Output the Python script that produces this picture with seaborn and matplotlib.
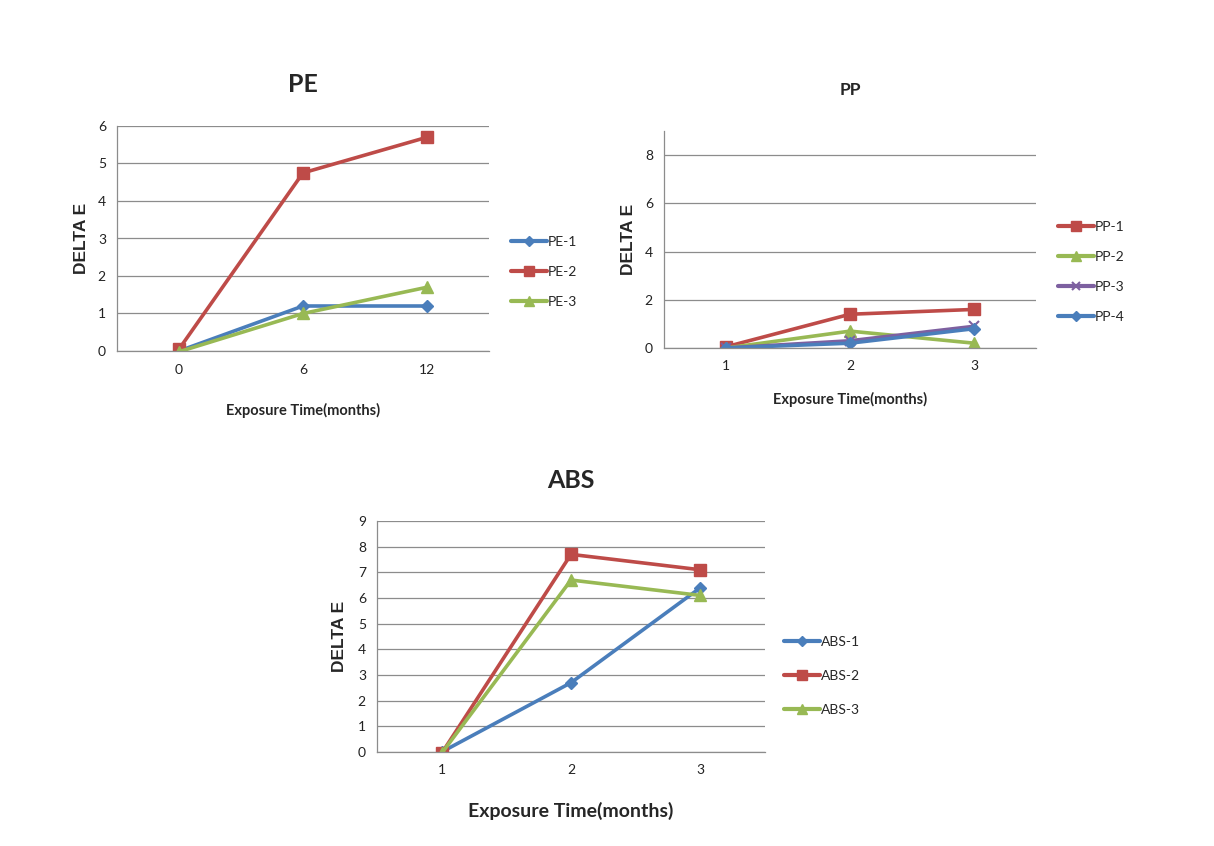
import matplotlib
matplotlib.use("Agg")
import matplotlib.pyplot as plt
import seaborn as sns
import pandas as pd
from matplotlib.lines import Line2D

# ---------------- data ----------------
pe_times = ["0", "6", "12"]
pe_series = ["PE-1", "PE-2", "PE-3"]
pe_1 = [0.0, 1.2, 1.2]
pe_2 = [0.05, 4.75, 5.7]
pe_3 = [-0.02, 1.0, 1.7]

pp_times = ["1", "2", "3"]
pp_series = ["PP-1", "PP-2", "PP-3", "PP-4"]
pp_1 = [0.05, 1.4, 1.6]
pp_2 = [0.0, 0.7, 0.2]
pp_3 = [0.0, 0.3, 0.9]
pp_4 = [0.0, 0.2, 0.8]

abs_times = ["1", "2", "3"]
abs_series = ["ABS-1", "ABS-2", "ABS-3"]
abs_1 = [0.0, 2.7, 6.4]
abs_2 = [-0.05, 7.7, 7.1]
abs_3 = [-0.05, 6.7, 6.1]

# ---------------- style ----------------
BLUE = "#4A7EBB"
RED = "#BE4B48"
GREEN = "#98B954"
PURPLE = "#7D60A0"
GRID = "#8c8c8c"

sns.set_style("white")
plt.rcParams["font.family"] = ["Lato", "DejaVu Sans"]

fig = plt.figure(figsize=(12.14, 8.46), dpi=100)


def draw(rect, times, names, values, colors, markers, msizes, ylim, ystep,
         title, title_size, xlabel_size, legend_anchor, legend_gap,
         title_y, xlabel_pad, ylabel_pad):
    ax = fig.add_axes(rect)
    for name, vals, c, m, ms in zip(names, values, colors, markers, msizes):
        df = pd.DataFrame({"pos": list(range(len(times))), "value": vals})
        sns.lineplot(data=df, x="pos", y="value", color=c, marker=m,
                     markersize=ms, linewidth=2.6,
                     markeredgewidth=1.5 if m == "x" else 1.0,
                     markeredgecolor=c, ax=ax, sort=False)
    ax.set_xlim(-0.5, len(times) - 0.5)
    ax.set_ylim(*ylim)
    yt = list(range(0, int(ylim[1]) + 1, ystep))
    ax.set_yticks(yt)
    ax.set_xticks(range(len(times)))
    ax.set_xticklabels(times)
    ax.set_xticks([i - 0.5 for i in range(len(times) + 1)], minor=True)
    ax.tick_params(axis="x", which="major", length=0, pad=9, labelsize=10,
                   labelcolor="#222222")
    ax.tick_params(axis="x", which="minor", length=5, color=GRID, width=0.8)
    ax.tick_params(axis="y", which="major", length=4, color=GRID, width=0.8,
                   labelsize=10, labelcolor="#222222", pad=4)
    ax.yaxis.grid(True, color=GRID, linewidth=0.9)
    ax.set_axisbelow(True)
    for s in ["top", "right"]:
        ax.spines[s].set_visible(False)
    for s in ["left", "bottom"]:
        ax.spines[s].set_color(GRID)
        ax.spines[s].set_linewidth(0.9)
    ax.set_xlabel("Exposure Time(months)", fontsize=xlabel_size,
                  fontweight="bold", labelpad=xlabel_pad)
    ax.set_ylabel("DELTA E", fontsize=12.5, fontweight="bold",
                  family=["Liberation Sans", "DejaVu Sans"],
                  labelpad=ylabel_pad)
    fig.text(rect[0] + rect[2] / 2 + title_y[0], title_y[1], title,
             fontsize=title_size, fontweight="bold", ha="center", va="center")
    handles = [Line2D([], [], color=c, marker=m, markersize=ms * 0.9,
                      linewidth=3, markeredgewidth=1.5 if m == "x" else 1.0)
               for c, m, ms in zip(colors, markers, msizes)]
    ax.legend(handles, names, loc="upper left", bbox_to_anchor=legend_anchor,
              bbox_transform=fig.transFigure, frameon=False, fontsize=10,
              handlelength=2.6, handletextpad=0.1, labelspacing=legend_gap,
              borderaxespad=0)
    return ax


# PE
draw([117 / 1214, 1 - 351 / 846, 372 / 1214, 225 / 846],
     pe_times, pe_series, [pe_1, pe_2, pe_3],
     [BLUE, RED, GREEN], ["D", "s", "^"], [6, 8, 8],
     (0, 6), 1, "PE", 18, 10.5, (505 / 1214, 1 - 230 / 846), 1.3,
     (0.0, 1 - 85 / 846), 20, 6)

# PP
draw([664 / 1214, 1 - 348 / 846, 372 / 1214, 217 / 846],
     pp_times, pp_series, [pp_1, pp_2, pp_3, pp_4],
     [RED, GREEN, PURPLE, BLUE], ["s", "^", "x", "D"], [8, 8, 7, 6],
     (0, 9), 2, "PP", 12.5, 10.5, (1052 / 1214, 1 - 215 / 846), 1.3,
     (0.0, 1 - 90 / 846), 14, 6)

# ABS
draw([377 / 1214, 1 - 752 / 846, 388 / 1214, 231 / 846],
     abs_times, abs_series, [abs_1, abs_2, abs_3],
     [BLUE, RED, GREEN], ["D", "s", "^"], [6, 8, 8],
     (0, 9), 1, "ABS", 18, 14, (778 / 1214, 1 - 630 / 846), 1.6,
     (0.0, 1 - 480 / 846), 18, 8)

fig.savefig("out.png", dpi=100)
